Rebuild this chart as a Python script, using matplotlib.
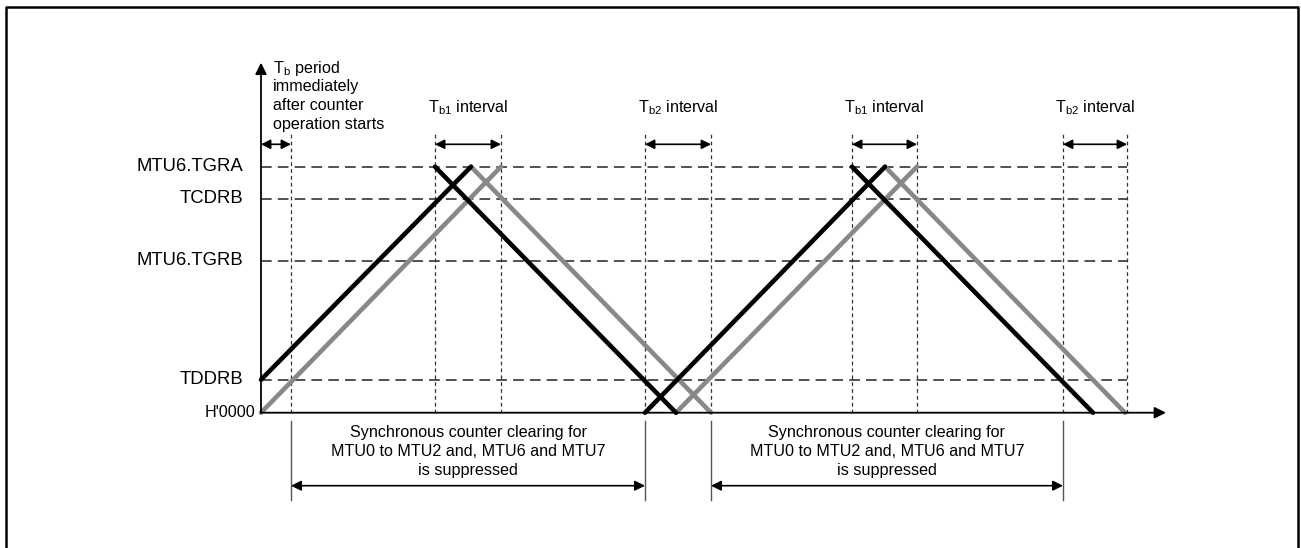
import matplotlib.pyplot as plt

plt.rcParams['font.family'] = ['Liberation Sans', 'DejaVu Sans']
plt.rcParams['mathtext.fontset'] = 'custom'
plt.rcParams['mathtext.rm'] = 'Liberation Sans'
plt.rcParams['mathtext.it'] = 'Liberation Sans'

# counter levels (register compare values)
level_names = ["H'0000", "TDDRB", "MTU6.TGRB", "TCDRB", "MTU6.TGRA"]
level_vals = [0, 33, 152, 214, 246]

# counter ramps: black and grey traces (time, count)
black_t = [[0, 210], [174, 415], [384, 624], [591, 832]]
black_v = [[33, 246], [246, 0], [0, 246], [246, 0]]
gray_t = [[0, 240], [210, 450], [415, 656], [624, 864]]
gray_v = [[0, 246], [246, 0], [0, 246], [246, 0]]

# interval markers at the top
intervals = [[0, 30], [174, 240], [384, 450], [591, 656], [802, 866]]
interval_labels = ["", r"T$_{\mathrm{b1}}$ interval", r"T$_{\mathrm{b2}}$ interval",
                   r"T$_{\mathrm{b1}}$ interval", r"T$_{\mathrm{b2}}$ interval"]
tb_lines = [r"T$_{\mathrm{b}}$ period", "immediately", "after counter", "operation starts"]

# suppressed clearing spans at the bottom
spans = [[30, 384], [450, 802]]
span_text = ["Synchronous counter clearing for", "MTU0 to MTU2 and, MTU6 and MTU7", "is suppressed"]

t_end = 866
guides = [30, 174, 240, 384, 450, 591, 656, 802, 866]

fig = plt.figure(figsize=(13.01, 5.48), dpi=100)
ax = fig.add_axes([0, 0, 1, 1])
ax.set_xlim(-261, 1040)
ax.set_ylim(-135.3, 412.7)
ax.axis('off')

# outer frame
ax.plot([-255, -255, 1037, 1037], [-200, 405.7, 405.7, -200], color='black', lw=1.8, clip_on=False)

# horizontal dashed levels
for v in level_vals[1:]:
    ax.plot([0, t_end], [v, v], color='#222222', lw=1.1, dashes=(7, 4))

# vertical dashed guides
for g in guides:
    ax.plot([g, g], [0, 281], color='#333333', lw=0.9, dashes=(3, 2.5))

# bottom solid guides and span arrows
for s in spans:
    for g in s:
        ax.plot([g, g], [-8.3, -87.3], color='#555555', lw=1.0)
    ax.annotate('', xy=(s[1], -73), xytext=(s[0], -73),
                arrowprops=dict(arrowstyle='<|-|>', color='black', lw=1.2,
                                mutation_scale=15, shrinkA=0, shrinkB=0))
    mid = (s[0] + s[1]) / 2
    for i, line in enumerate(span_text):
        ax.text(mid, -20 - 19 * i, line, ha='center', va='center', fontsize=11.6)

# traces
for t, v in zip(gray_t, gray_v):
    ax.plot(t, v, color='#888888', lw=3.3, solid_capstyle='round')
for t, v in zip(black_t, black_v):
    ax.plot(t, v, color='black', lw=3.3, solid_capstyle='round')

# axes arrows
ax.annotate('', xy=(0, 350), xytext=(0, 0),
            arrowprops=dict(arrowstyle='-|>', color='black', lw=1.3,
                            mutation_scale=17, shrinkA=0, shrinkB=0))
ax.annotate('', xy=(905, 0), xytext=(0, 0),
            arrowprops=dict(arrowstyle='-|>', color='black', lw=1.3,
                            mutation_scale=17, shrinkA=0, shrinkB=0))

# level labels
for name, v in zip(level_names, level_vals):
    if v == 0:
        ax.text(-6, v, name, ha='right', va='center', fontsize=11.6)
    else:
        ax.text(-18, v, name, ha='right', va='center', fontsize=13.3)

# interval arrows and labels
for (a, b), lab in zip(intervals, interval_labels):
    ax.annotate('', xy=(b, 268.4), xytext=(a, 268.4),
                arrowprops=dict(arrowstyle='<|-|>', color='black', lw=1.2,
                                mutation_scale=14, shrinkA=0, shrinkB=0))
    if lab:
        ax.text((a + b) / 2, 304.7, lab, ha='center', va='center', fontsize=11.6)

for i, line in enumerate(tb_lines):
    ax.text(12, 344.7 - 19 * i, line, ha='left', va='center', fontsize=11.6)

fig.savefig('out.png', dpi=100)
